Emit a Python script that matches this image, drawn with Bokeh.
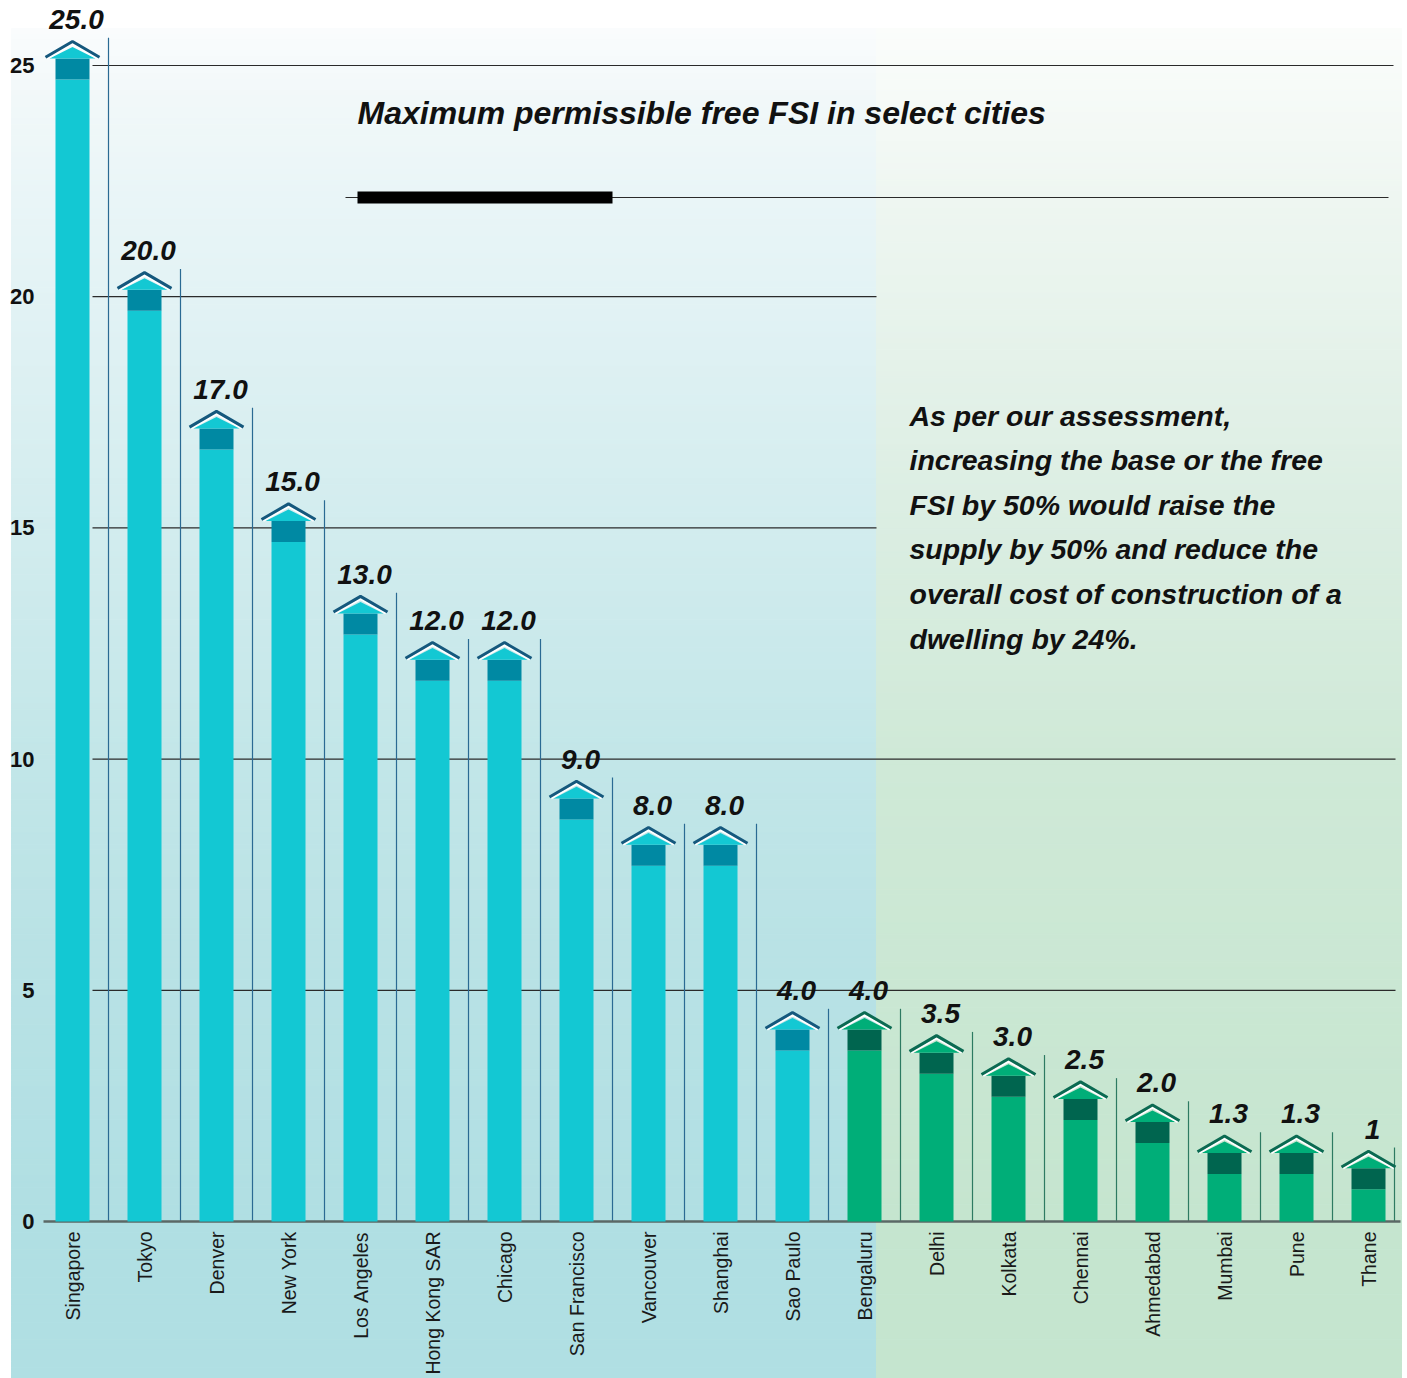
import numpy as np
from bokeh.plotting import figure
from bokeh.models import Range1d, FixedTicker
from bokeh.embed import file_html
from bokeh.resources import INLINE
from bokeh.core.properties import value

# ---------------- data ----------------
cities = ["Singapore", "Tokyo", "Denver", "New York", "Los Angeles", "Hong Kong SAR",
          "Chicago", "San Francisco", "Vancouver", "Shanghai", "Sao Paulo", "Bengaluru",
          "Delhi", "Kolkata", "Chennai", "Ahmedabad", "Mumbai", "Pune", "Thane"]
fsi = [25, 20, 17, 15, 13, 12, 12, 9, 8, 8, 4, 4, 3.5, 3, 2.5, 2, 1.33, 1.33, 1]
fsi_labels = ["25.0", "20.0", "17.0", "15.0", "13.0", "12.0", "12.0", "9.0", "8.0", "8.0",
              "4.0", "4.0", "3.5", "3.0", "2.5", "2.0", "1.3", "1.3", "1"]
region = ["Global"] * 11 + ["India"] * 8
y_ticks = [0, 5, 10, 15, 20, 25]
title = "Maximum permissible free FSI in select cities"
note_lines = ["As per our assessment,",
              "increasing the base or the free",
              "FSI by 50% would raise the",
              "supply by 50% and reduce the",
              "overall cost of construction of a",
              "dwelling by 24%."]

# ---------------- layout helpers ----------------
W, H = 1407, 1378
PXX, PXY = 72.0, 46.24          # pixels per category / per FSI unit
X0, Y0 = 72.0, 1221.0           # pixel position of first category / of zero


def dx(px):
    return (np.asarray(px, dtype=float) - X0) / PXX


def dy(py):
    return (Y0 - np.asarray(py, dtype=float)) / PXY


p = figure(width=W, height=H, output_backend="svg", toolbar_location=None,
           x_range=Range1d(dx(0), dx(W)), y_range=Range1d(dy(H), dy(0)),
           min_border=0, background_fill_color="white", border_fill_color="white")
p.outline_line_color = None
p.xgrid.visible = False
p.ygrid.visible = False

FONT = value("Liberation Sans")

# ---------------- background gradients ----------------
def gradient(x_l, x_r, stops_py, stops_rgb, top_py=28, n=240):
    edges = np.linspace(top_py, H, n + 1)
    mids = (edges[:-1] + edges[1:]) / 2
    arr = np.array(stops_rgb, dtype=float)
    cols = []
    for m in mids:
        r, g, b = (int(round(np.interp(m, stops_py, arr[:, k]))) for k in range(3))
        cols.append("#%02x%02x%02x" % (r, g, b))
    p.quad(left=float(dx(x_l)), right=float(dx(x_r)), top=dy(edges[:-1]), bottom=dy(edges[1:]),
           fill_color=cols, line_color=cols, line_width=1)


gradient(11, 876, [28, 100, 200, 760, 950, 1221, 1378],
         [(250, 252, 253), (241, 248, 249), (233, 245, 247), (194, 230, 232),
          (185, 226, 229), (176, 223, 227), (176, 223, 227)])
gradient(876, 1401, [28, 200, 500, 760, 1221, 1378],
         [(251, 253, 251), (238, 246, 241), (220, 238, 227), (207, 233, 215),
          (197, 229, 207), (197, 229, 207)])

# ---------------- grid lines ----------------
grid_vals = [5, 10, 15, 20, 25]
grid_end_px = {5: 1395, 10: 1395, 15: 876, 20: 876, 25: 1393}
p.segment(x0=[float(dx(92))] * len(grid_vals), y0=grid_vals,
          x1=[float(dx(grid_end_px[v])) for v in grid_vals], y1=grid_vals,
          line_color="#2a2a2a", line_width=1.2)

# title rule
p.segment(x0=[float(dx(345))], y0=[float(dy(197))], x1=[float(dx(1388))], y1=[float(dy(197))],
          line_color="#2a2a2a", line_width=1.2)
p.quad(left=[float(dx(357))], right=[float(dx(612))], top=[float(dy(191))], bottom=[float(dy(203))],
       fill_color="black", line_color=None)

# ---------------- bars ----------------
idx = np.arange(len(cities), dtype=float)
vals = np.array(fsi, dtype=float)
is_india = np.array([r == "India" for r in region])

main_col = np.where(is_india, "#00ae78", "#13c8d3").tolist()
dark_col = np.where(is_india, "#00654f", "#0089a3").tolist()
roof_col = np.where(is_india, "#0b6a52", "#15587d").tolist()
sep_col = np.where(is_india, "#2d7a62", "#2a6a93").tolist()

TOP_OFF = 0.15
BAND = 21 / PXY
BAR_W = 34 / PXX
LABEL_OFF = 0.78 + 10 / PXY
TEXT_SHIFT = 10 / PXY
tops = vals + TOP_OFF

# separators
sep_x = np.minimum(idx + 0.5, dx(1394))
p.segment(x0=sep_x, y0=np.zeros_like(idx), x1=sep_x, y1=vals + 0.6,
          line_color=sep_col, line_width=1.2)

# baseline
p.segment(x0=[float(dx(43))], y0=[0], x1=[float(dx(1400))], y1=[0],
          line_color="#5b6866", line_width=2.5)

p.vbar(x=idx, bottom=0, top=tops - BAND, width=BAR_W, fill_color=main_col, line_color=None)
p.vbar(x=idx, bottom=tops - BAND, top=tops, width=BAR_W, fill_color=dark_col, line_color=None)

# roofs (arrow heads)
fill_xs = [[i - 0.32, i, i + 0.32] for i in idx]
fill_ys = [[t, t + 0.25, t] for t in tops]
p.patches(xs=fill_xs, ys=fill_ys, fill_color=main_col, line_color=None)
white_xs = [[i - 0.35, i, i + 0.35] for i in idx]
white_ys = [[t, t + 0.31, t] for t in tops]
p.multi_line(xs=white_xs, ys=white_ys, line_color="white", line_width=2)
roof_xs = [[i - 0.375, i, i + 0.375] for i in idx]
roof_ys = [[t + 0.03, t + 0.37, t + 0.03] for t in tops]
p.multi_line(xs=roof_xs, ys=roof_ys, line_color=roof_col, line_width=3)

# value labels
p.text(x=idx, y=vals + LABEL_OFF, text=fsi_labels, x_offset=4, text_align="center",
       text_baseline="alphabetic", text_font=FONT, text_font_style="bold italic",
       text_font_size="28px", text_color="#111111")

# title
p.text(x=[float(dx(357))], y=[float(dy(124)) + 12 / PXY], text=[title], text_align="left",
       text_baseline="alphabetic", text_font=FONT, text_font_style="bold italic",
       text_font_size="32px", text_color="#111111")

# note
note_y = [float(dy(425 + k * 44.6)) + TEXT_SHIFT for k in range(len(note_lines))]
p.text(x=[float(dx(909))] * len(note_lines), y=note_y, text=note_lines, text_align="left",
       text_baseline="alphabetic", text_font=FONT, text_font_style="bold italic",
       text_font_size="28.5px", text_color="#111111")

# ---------------- axes ----------------
xa = p.xaxis[0]
xa.ticker = FixedTicker(ticks=list(range(len(cities))))
xa.major_label_overrides = {i: c for i, c in enumerate(cities)}
xa.major_label_orientation = np.pi / 2
xa.fixed_location = 0
xa.axis_line_color = None
xa.major_tick_line_color = None
xa.minor_tick_line_color = None
xa.major_tick_out = 0
xa.major_label_standoff = 10
xa.major_label_text_font = "Liberation Sans"
xa.major_label_text_font_size = "19.5px"
xa.major_label_text_color = "#1a1a1a"

ya = p.yaxis[0]
ya.ticker = FixedTicker(ticks=y_ticks)
ya.fixed_location = float(dx(34))
ya.axis_line_color = None
ya.major_tick_line_color = None
ya.minor_tick_line_color = None
ya.major_tick_out = 0
ya.major_label_standoff = 0
ya.major_label_text_font = "Liberation Sans"
ya.major_label_text_font_style = "bold"
ya.major_label_text_font_size = "22px"
ya.major_label_text_color = "#111111"

open("out.html", "w").write(file_html(p, INLINE))
